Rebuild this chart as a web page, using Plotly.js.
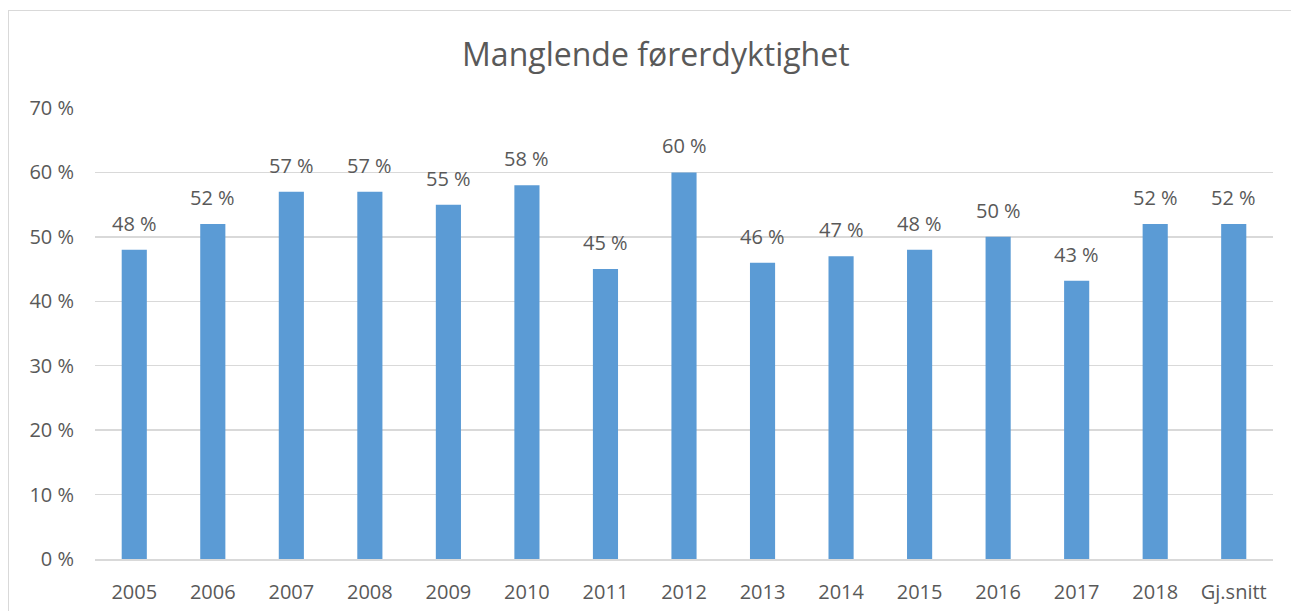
<!DOCTYPE html>
<html>
<head>
<meta charset="utf-8">
<script src="https://cdn.plot.ly/plotly-3.0.1.min.js"></script>
<style>
html,body{margin:0;padding:0;background:#fff;overflow:hidden;}
#chart{position:absolute;left:0;top:0;width:1291px;height:611px;}
#frame{position:absolute;left:8px;top:10px;width:1300px;height:640px;border:1.5px solid #d9d9d9;pointer-events:none;}
</style>
</head>
<body>
<div id="chart"></div>
<div id="frame"></div>
<script>
const categories = ["2005","2006","2007","2008","2009","2010","2011","2012","2013","2014","2015","2016","2017","2018","Gj.snitt"];
const values = [48, 52, 57, 57, 55, 58, 45, 60, 46, 47, 48, 50, 43.2, 52, 52];
const labels = ["48 %","52 %","57 %","57 %","55 %","58 %","45 %","60 %","46 %","47 %","48 %","50 %","43 %","52 %","52 %"];
const yTickVals = [0,10,20,30,40,50,60,70];
const yTickText = ["0 %","10 %","20 %","30 %","40 %","50 %","60 %","70 %"];
const chartTitle = "Manglende førerdyktighet";

const font = "Open Sans, Noto Sans, sans-serif";
const textColor = "#595959";

const annotations = categories.map((c,i)=>({
  x: i, y: values[i], xref:'x', yref:'y', text: labels[i], showarrow:false,
  yanchor:'bottom', yshift: 11, font:{family:font, size:20, color:textColor}
}));

Plotly.newPlot('chart', [{
  type:'bar', x: categories, y: values,
  marker:{color:'#5b9bd5'}, hoverinfo:'skip'
}], {
  width:1291, height:611,
  margin:{l:95, r:18, t:108, b:52},
  paper_bgcolor:'#fff', plot_bgcolor:'#fff',
  bargap:0.68,
  title:{text:chartTitle, x:0.508, xanchor:'center', y:0.91, yanchor:'middle',
         font:{family:font, size:32, color:textColor}},
  xaxis:{type:'category', range:[-0.5, categories.length-0.5], showgrid:false, showline:true, linecolor:'#d9d9d9', linewidth:1.5,
         ticks:'', tickfont:{family:font, size:20, color:textColor}, ticklabelstandoff:14},
  yaxis:{range:[0,70], tickvals:yTickVals, ticktext:yTickText, showgrid:true, gridcolor:'#d9d9d9',
         gridwidth:1.5, zeroline:false, showline:false, ticks:'',
         tickfont:{family:font, size:20, color:textColor}, ticklabelstandoff:20},
  annotations: annotations,
  showlegend:false
}, {staticPlot:true});
</script>
</body>
</html>
